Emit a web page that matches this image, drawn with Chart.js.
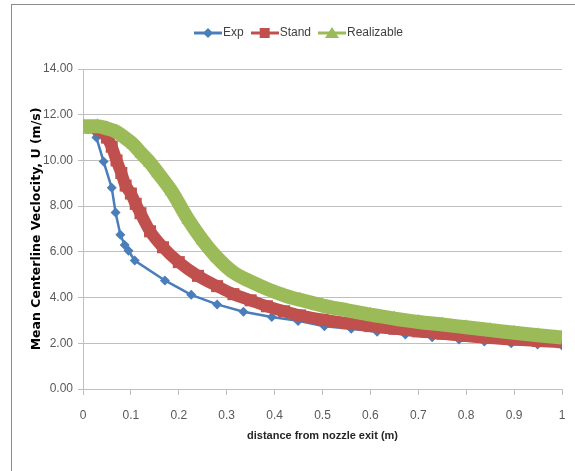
<!DOCTYPE html>
<html>
<head>
<meta charset="utf-8">
<script src="https://cdn.jsdelivr.net/npm/chart.js@4"></script>
<style>
	body { margin: 0; background: #fff; }
	#wrap { position: relative; width: 575px; height: 471px; }
	#frame { position: absolute; left: 11px; top: 4px; width: 600px; height: 500px; border-top: 1.5px solid #8c8c8c; border-left: 1.5px solid #8c8c8c; }
	canvas { position: absolute; left: 0; top: 0; }
</style>
</head>
<body>
<div id="wrap">
	<div id="frame"></div>
	<canvas id="chart" width="575" height="471"></canvas>
</div>
<script>
// values
let expX = [0, 0.014, 0.028, 0.043, 0.06, 0.068, 0.078, 0.087, 0.095, 0.108, 0.171, 0.226, 0.28, 0.335, 0.394, 0.449, 0.504, 0.56, 0.614, 0.673, 0.729, 0.785, 0.838, 0.894, 0.949, 1.0];
let expY = [11.5, 11.4, 11.0, 9.95, 8.8, 7.72, 6.75, 6.3, 6.05, 5.62, 4.75, 4.12, 3.7, 3.38, 3.15, 2.98, 2.75, 2.64, 2.5, 2.38, 2.26, 2.17, 2.08, 2.0, 1.95, 1.9];

let standX = [0, 0.02, 0.035, 0.05, 0.06, 0.07, 0.08, 0.089, 0.1, 0.11, 0.12, 0.14, 0.167, 0.2, 0.24, 0.28, 0.314, 0.35, 0.384, 0.42, 0.453, 0.5, 0.55, 0.6, 0.65, 0.7, 0.75, 0.8, 0.85, 0.9, 0.95, 1.0];
let standY = [11.45, 11.45, 11.35, 11.0, 10.6, 10.0, 9.45, 8.9, 8.55, 8.1, 7.69, 6.9, 6.2, 5.55, 4.95, 4.5, 4.15, 3.88, 3.62, 3.4, 3.22, 3.03, 2.88, 2.75, 2.64, 2.52, 2.42, 2.32, 2.23, 2.16, 2.1, 2.05];

let realX = [0, 0.03, 0.05, 0.07, 0.087, 0.105, 0.122, 0.14, 0.157, 0.185, 0.22, 0.25, 0.28, 0.314, 0.35, 0.384, 0.42, 0.453, 0.5, 0.55, 0.6, 0.65, 0.7, 0.75, 0.8, 0.85, 0.9, 0.95, 1.0];
let realY = [11.5, 11.5, 11.4, 11.25, 11.0, 10.7, 10.3, 9.9, 9.44, 8.65, 7.4, 6.5, 5.75, 5.1, 4.7, 4.38, 4.1, 3.9, 3.65, 3.45, 3.25, 3.08, 2.93, 2.82, 2.7, 2.58, 2.46, 2.35, 2.25];

let seriesNames = ["Exp", "Stand", "Realizable"];
let seriesColors = ["#4a7ebb", "#c0504d", "#9bbb59"];
let xTicks = [0, 0.1, 0.2, 0.3, 0.4, 0.5, 0.6, 0.7, 0.8, 0.9, 1];

let sans = "'Liberation Sans', Arial, sans-serif";

function toPoints(xs, ys) {
	let pts = [];
	for (let i = 0; i < xs.length; i++) {
		pts.push({ x: xs[i], y: ys[i] });
	}
	return pts;
}

// little line + marker picture for the legend
function legendIcon(color, style) {
	let c = document.createElement("canvas");
	c.width = 28;
	c.height = 14;
	let ctx = c.getContext("2d");
	ctx.strokeStyle = color;
	ctx.fillStyle = color;
	ctx.lineWidth = 3;
	ctx.beginPath();
	ctx.moveTo(0, 7);
	ctx.lineTo(28, 7);
	ctx.stroke();
	ctx.beginPath();
	if (style == "diamond") {
		ctx.moveTo(14, 2); ctx.lineTo(19, 7); ctx.lineTo(14, 12); ctx.lineTo(9, 7);
	} else if (style == "square") {
		ctx.rect(9, 2, 10, 10);
	} else {
		ctx.moveTo(14, 1); ctx.lineTo(21, 12); ctx.lineTo(7, 12);
	}
	ctx.closePath();
	ctx.fill();
	return c;
}

let icons = [legendIcon(seriesColors[0], "diamond"), legendIcon(seriesColors[1], "square"), legendIcon(seriesColors[2], "triangle")];

// extra room under the legend, and nudge it to the right like the original
let legendSpace = {
	id: "legendSpace",
	beforeInit(chart) {
		let fit = chart.legend.fit;
		chart.legend.fit = function () {
			fit.bind(chart.legend)();
			this.height += 21;
		};
	},
	afterLayout(chart) {
		chart.legend.left += 20;
		chart.legend.right += 20;
		chart.legend.top += 1;
		chart.legend.bottom += 1;
	}
};

let config = {
	type: "line",
	data: {
		datasets: [{
			label: seriesNames[0],
			data: toPoints(expX, expY),
			borderColor: seriesColors[0],
			backgroundColor: seriesColors[0],
			borderWidth: 2.5,
			pointStyle: "rectRot",
			pointRadius: 5,
			pointBorderWidth: 0,
			order: 3
		}, {
			label: seriesNames[1],
			data: toPoints(standX, standY),
			borderColor: seriesColors[1],
			backgroundColor: seriesColors[1],
			borderWidth: 12,
			borderCapStyle: "butt",
			borderJoinStyle: "round",
			cubicInterpolationMode: "monotone",
			pointStyle: "rect",
			pointRadius: 8.5,
			pointBorderWidth: 0,
			order: 2
		}, {
			label: seriesNames[2],
			data: toPoints(realX, realY),
			borderColor: seriesColors[2],
			backgroundColor: seriesColors[2],
			borderWidth: 14,
			borderCapStyle: "butt",
			borderJoinStyle: "round",
			cubicInterpolationMode: "monotone",
			pointStyle: "triangle",
			pointRadius: 8,
			pointBorderWidth: 0,
			order: 1
		}]
	},
	options: {
		responsive: false,
		animation: false,
		layout: { padding: { top: 14, left: 0, right: 13, bottom: 0 } },
		plugins: {
			tooltip: { enabled: false },
			legend: {
				position: "top",
				labels: {
					usePointStyle: true,
					pointStyleWidth: 18,
					padding: 12,
					color: "#404040",
					font: { family: sans, size: 12 },
					generateLabels: function (chart) {
						return seriesNames.map(function (name, i) {
							return {
								text: name,
								pointStyle: icons[i],
								fontColor: "#404040",
								strokeStyle: seriesColors[i],
								fillStyle: seriesColors[i],
								lineWidth: 0,
								datasetIndex: i,
								hidden: false
							};
						});
					}
				}
			}
		},
		scales: {
			x: {
				type: "linear",
				min: 0,
				max: 1,
				afterBuildTicks: function (scale) {
					scale.ticks = xTicks.map(function (v) { return { value: v }; });
				},
				afterFit: function (scale) {
					scale.height = 82;
					scale.paddingLeft = 0;
					scale.paddingRight = 0;
				},
				grid: { drawOnChartArea: false, drawTicks: true, tickLength: 6, color: "#bfbfbf" },
				border: { color: "#bfbfbf" },
				ticks: {
					color: "#595959",
					padding: 13,
					maxRotation: 0,
					font: { family: sans, size: 12 },
					callback: function (v) { return String(+v.toFixed(1)); }
				},
				title: {
					display: true,
					text: "distance from nozzle exit (m)",
					color: "#262626",
					padding: { top: 0, bottom: 28 },
					font: { family: sans, size: 11, weight: "bold" }
				}
			},
			y: {
				min: 0,
				max: 14,
				afterFit: function (scale) { scale.width = 83; },
				grid: { color: "#bfbfbf", tickLength: 5 },
				border: { color: "#bfbfbf" },
				ticks: {
					stepSize: 2,
					color: "#595959",
					padding: 5,
					font: { family: sans, size: 12 },
					callback: function (v) { return v.toFixed(2); }
				},
				title: {
					display: true,
					text: "Mean Centerline Veclocity, U (m/s)",
					color: "#000",
					padding: { top: 29, bottom: 0 },
					font: { family: "'DejaVu Sans', sans-serif", size: 12.5, weight: "bold" }
				}
			}
		}
	},
	plugins: [legendSpace]
};

let chartCanvas = new Chart(document.getElementById("chart").getContext("2d"), config);
</script>
</body>
</html>
